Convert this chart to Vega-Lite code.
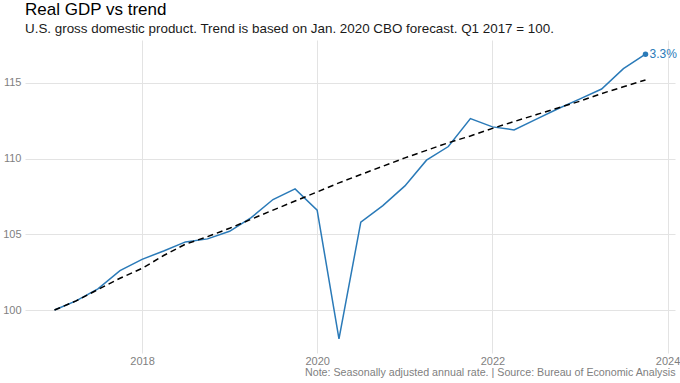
{
  "$schema": "https://vega.github.io/schema/vega-lite/v6.json",
  "autosize": {"type": "none"},
  "width": 650,
  "height": 313,
  "padding": {"left": 25, "top": 40, "right": 5, "bottom": 30},
  "background": "white",
  "title": {
    "text": "Real GDP vs trend",
    "subtitle": "U.S. gross domestic product. Trend is based on Jan. 2020 CBO forecast. Q1 2017 = 100.",
    "anchor": "start",
    "frame": "group",
    "fontSize": 17,
    "fontWeight": "normal",
    "color": "#000000",
    "subtitleFontSize": 13.4,
    "subtitleColor": "#1a1a1a",
    "subtitlePadding": 3,
    "offset": 4
  },
  "data": {
    "values": [
      {"date": "2017-01-01", "gdp": 100.0, "trend": 100.0},
      {"date": "2017-04-01", "gdp": 100.6, "trend": 100.6},
      {"date": "2017-07-01", "gdp": 101.4, "trend": 101.35},
      {"date": "2017-10-01", "gdp": 102.6, "trend": 102.1},
      {"date": "2018-01-01", "gdp": 103.35, "trend": 102.75},
      {"date": "2018-04-01", "gdp": 103.9, "trend": 103.6},
      {"date": "2018-07-01", "gdp": 104.5, "trend": 104.35},
      {"date": "2018-10-01", "gdp": 104.7, "trend": 104.85},
      {"date": "2019-01-01", "gdp": 105.2, "trend": 105.4},
      {"date": "2019-04-01", "gdp": 106.1, "trend": 106.0},
      {"date": "2019-07-01", "gdp": 107.3, "trend": 106.6},
      {"date": "2019-10-01", "gdp": 108.0, "trend": 107.2},
      {"date": "2020-01-01", "gdp": 106.6, "trend": 107.8},
      {"date": "2020-04-01", "gdp": 98.1, "trend": 108.4},
      {"date": "2020-07-01", "gdp": 105.8, "trend": 108.95},
      {"date": "2020-10-01", "gdp": 106.9, "trend": 109.5},
      {"date": "2021-01-01", "gdp": 108.2, "trend": 110.05},
      {"date": "2021-04-01", "gdp": 109.9, "trend": 110.55},
      {"date": "2021-07-01", "gdp": 110.8, "trend": 111.05},
      {"date": "2021-10-01", "gdp": 112.65, "trend": 111.5},
      {"date": "2022-01-01", "gdp": 112.1, "trend": 112.0},
      {"date": "2022-04-01", "gdp": 111.9, "trend": 112.45},
      {"date": "2022-07-01", "gdp": 112.6, "trend": 112.9},
      {"date": "2022-10-01", "gdp": 113.3, "trend": 113.35},
      {"date": "2023-01-01", "gdp": 113.95, "trend": 113.8},
      {"date": "2023-04-01", "gdp": 114.6, "trend": 114.3},
      {"date": "2023-07-01", "gdp": 115.95, "trend": 114.75},
      {"date": "2023-10-01", "gdp": 116.9, "trend": 115.2, "label": "3.3%"}
    ]
  },
  "encoding": {
    "x": {
      "field": "date",
      "type": "temporal",
      "scale": {
        "type": "utc",
        "domain": [
          {"year": 2016, "month": 8, "date": 31, "utc": true},
          {"year": 2024, "month": 2, "date": 1, "utc": true}
        ]
      },
      "axis": {
        "title": "Note: Seasonally adjusted annual rate. | Source: Bureau of Economic Analysis",
        "titleAnchor": "end",
        "titleFontSize": 10.7,
        "titleFontWeight": "normal",
        "titleColor": "#808080",
        "titlePadding": 1,
        "format": "%Y",
        "formatType": "utc",
        "values": [
          {"year": 2018, "month": 1, "date": 1, "utc": true},
          {"year": 2020, "month": 1, "date": 1, "utc": true},
          {"year": 2022, "month": 1, "date": 1, "utc": true},
          {"year": 2024, "month": 1, "date": 1, "utc": true}
        ],
        "labelFontSize": 11,
        "labelColor": "#7f7f7f",
        "labelPadding": 2,
        "ticks": false,
        "domain": false,
        "grid": true,
        "gridColor": "#e3e3e3",
        "gridWidth": 1
      }
    }
  },
  "layer": [
    {
      "mark": {"type": "line", "color": "#2a7ab8", "strokeWidth": 1.5},
      "encoding": {
        "y": {
          "field": "gdp",
          "type": "quantitative",
          "scale": {"domain": [97.16, 117.84], "nice": false, "zero": false},
          "axis": {
            "title": null,
            "values": [100, 105, 110, 115],
            "labelFontSize": 11,
            "labelColor": "#7f7f7f",
            "labelPadding": 4,
            "ticks": false,
            "domain": false,
            "grid": true,
            "gridColor": "#e3e3e3",
            "gridWidth": 1
          }
        }
      }
    },
    {
      "mark": {"type": "line", "color": "#000000", "strokeWidth": 1.5, "strokeDash": [6, 4]},
      "encoding": {
        "y": {"field": "trend", "type": "quantitative"}
      }
    },
    {
      "transform": [{"filter": "isValid(datum.label)"}],
      "mark": {"type": "point", "filled": true, "color": "#2a7ab8", "size": 30, "opacity": 1},
      "encoding": {
        "y": {"field": "gdp", "type": "quantitative"}
      }
    },
    {
      "transform": [{"filter": "isValid(datum.label)"}],
      "mark": {"type": "text", "align": "left", "baseline": "middle", "dx": 4, "fontSize": 12, "color": "#2a7ab8"},
      "encoding": {
        "y": {"field": "gdp", "type": "quantitative"},
        "text": {"field": "label"}
      }
    }
  ],
  "config": {
    "font": "Liberation Sans",
    "view": {"stroke": null}
  }
}
